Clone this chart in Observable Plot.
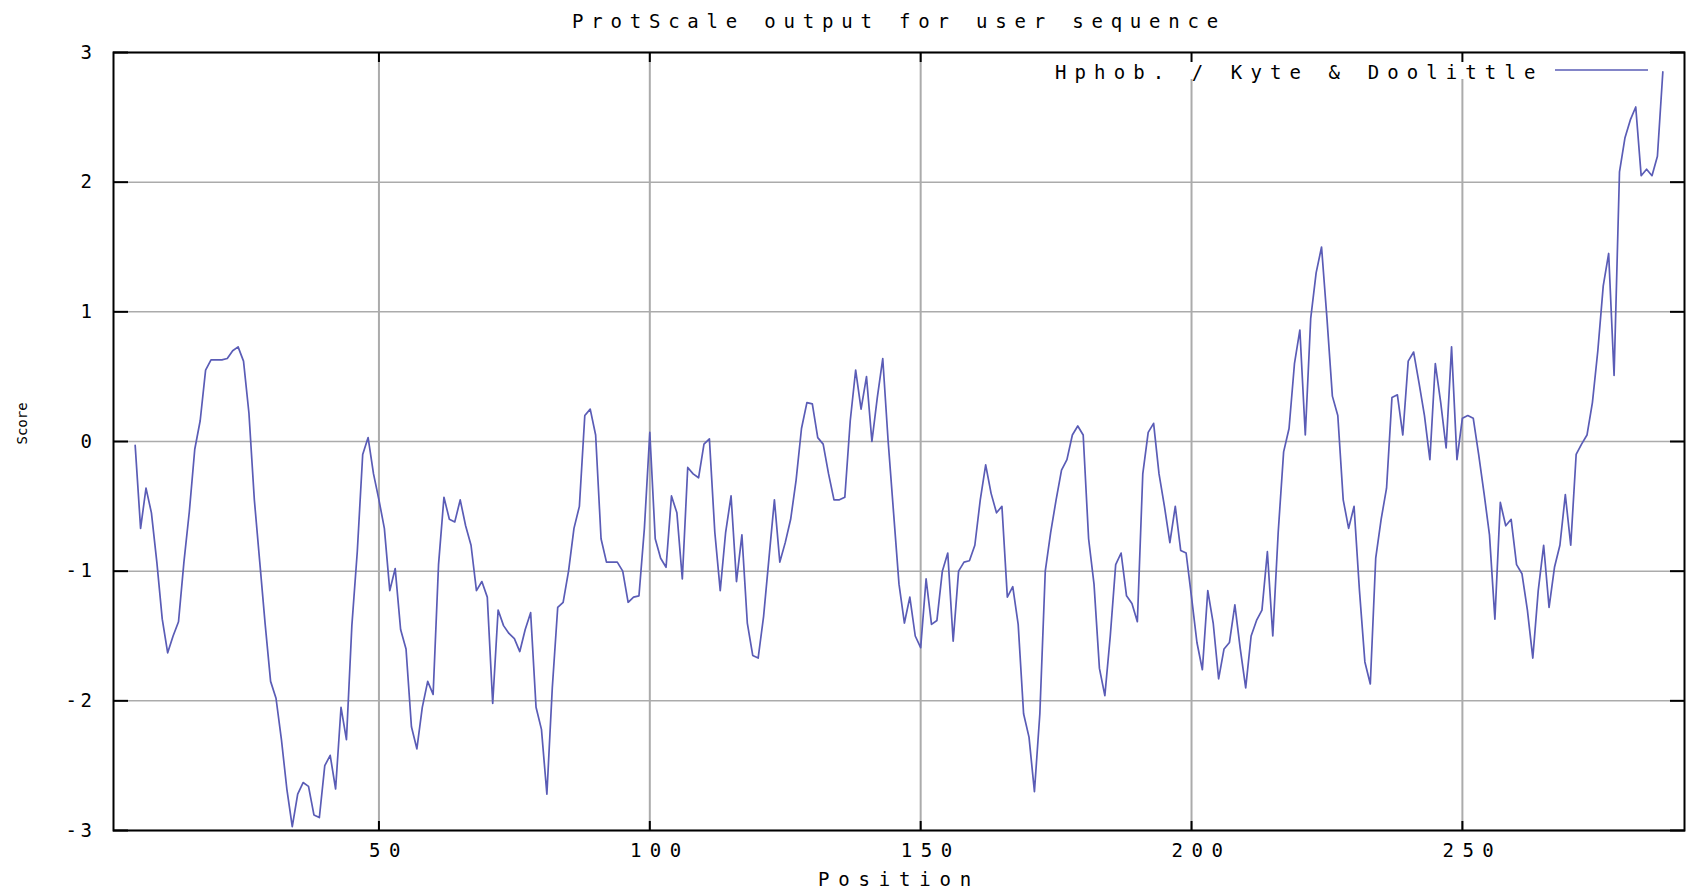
<!DOCTYPE html>
<html>
<head>
<meta charset="utf-8">
<script src="https://cdn.jsdelivr.net/npm/d3@7"></script>
<script src="https://cdn.jsdelivr.net/npm/@observablehq/plot@0.6"></script>
<style>
  html, body { margin: 0; padding: 0; background: #fff; }
  #chart svg { display: block; }
</style>
</head>
<body>
<div id="chart"></div>
<script>
const titleText = "ProtScale output for user sequence";
const seriesName = "Hphob. / Kyte & Doolittle";
const xLabel = "Position";
const yLabel = "Score";
const xTicks = [50, 100, 150, 200, 250];
const yTicks = [-3, -2, -1, 0, 1, 2, 3];
const xDomain = [1, 291];
const yDomain = [-3, 3];
const firstPosition = 5;
const scores = [
  -0.03,-0.67,-0.36,-0.55,-0.93,-1.37,-1.63,-1.50,-1.39,-0.93,
  -0.54,-0.06,0.16,0.55,0.63,0.63,0.63,0.64,0.70,0.73,
  0.62,0.22,-0.45,-0.93,-1.41,-1.85,-1.98,-2.30,-2.68,-2.97,
  -2.72,-2.63,-2.66,-2.88,-2.90,-2.50,-2.42,-2.68,-2.05,-2.30,
  -1.42,-0.85,-0.10,0.03,-0.25,-0.45,-0.67,-1.15,-0.98,-1.45,
  -1.60,-2.20,-2.37,-2.05,-1.85,-1.95,-0.95,-0.43,-0.60,-0.62,
  -0.45,-0.65,-0.80,-1.15,-1.08,-1.20,-2.02,-1.30,-1.42,-1.48,
  -1.52,-1.62,-1.45,-1.32,-2.05,-2.22,-2.72,-1.90,-1.28,-1.24,
  -1.00,-0.67,-0.50,0.20,0.25,0.05,-0.75,-0.93,-0.93,-0.93,
  -1.00,-1.24,-1.20,-1.19,-0.67,0.07,-0.75,-0.90,-0.97,-0.42,
  -0.55,-1.06,-0.20,-0.25,-0.28,-0.02,0.02,-0.70,-1.15,-0.70,
  -0.42,-1.08,-0.72,-1.40,-1.65,-1.67,-1.35,-0.90,-0.45,-0.93,
  -0.78,-0.60,-0.30,0.10,0.30,0.29,0.03,-0.02,-0.25,-0.45,
  -0.45,-0.43,0.16,0.55,0.25,0.50,0.00,0.34,0.64,0.00,
  -0.55,-1.10,-1.40,-1.20,-1.50,-1.59,-1.06,-1.41,-1.38,-1.00,
  -0.86,-1.54,-1.00,-0.93,-0.92,-0.80,-0.45,-0.18,-0.40,-0.55,
  -0.50,-1.20,-1.12,-1.41,-2.10,-2.28,-2.70,-2.10,-1.00,-0.70,
  -0.45,-0.22,-0.14,0.05,0.12,0.05,-0.75,-1.10,-1.75,-1.96,
  -1.50,-0.95,-0.86,-1.19,-1.25,-1.39,-0.25,0.07,0.14,-0.25,
  -0.50,-0.78,-0.50,-0.84,-0.86,-1.20,-1.55,-1.76,-1.15,-1.40,
  -1.83,-1.60,-1.55,-1.26,-1.60,-1.90,-1.50,-1.38,-1.30,-0.85,
  -1.50,-0.70,-0.08,0.10,0.60,0.86,0.05,0.95,1.30,1.50,
  0.95,0.35,0.20,-0.45,-0.67,-0.50,-1.15,-1.70,-1.87,-0.90,
  -0.60,-0.36,0.34,0.36,0.05,0.62,0.69,0.45,0.20,-0.14,
  0.60,0.30,-0.05,0.73,-0.14,0.18,0.20,0.18,-0.10,-0.40,
  -0.72,-1.37,-0.47,-0.65,-0.60,-0.95,-1.02,-1.30,-1.67,-1.15,
  -0.80,-1.28,-0.97,-0.80,-0.41,-0.80,-0.10,-0.02,0.05,0.30,
  0.70,1.20,1.45,0.51,2.08,2.34,2.48,2.58,2.05,2.10,
  2.05,2.20,2.85
];
const positions = scores.map((_, i) => firstPosition + i);
const data = positions.map((p, i) => ({position: p, score: scores[i]}));

const FONT = "'DejaVu Sans Mono', 'Liberation Mono', monospace";
const LINE_COLOR = "#5a5cb6";
const GRID_COLOR = "#ababab";
const FS = 19;

const chart = Plot.plot({
  width: 1689,
  height: 888,
  marginLeft: 113,
  marginRight: 5,
  marginTop: 52,
  marginBottom: 58,
  style: {fontFamily: FONT, fontSize: FS + "px", color: "#000", background: "#fff"},
  x: {domain: xDomain},
  y: {domain: yDomain},
  marks: [
    Plot.gridX(xTicks, {stroke: GRID_COLOR, strokeOpacity: 1, strokeWidth: 2}),
    Plot.gridY(yTicks, {stroke: GRID_COLOR, strokeOpacity: 1, strokeWidth: 1.5}),
    Plot.line(data, {x: "position", y: "score", stroke: LINE_COLOR, strokeWidth: 1.7}),
    // tick labels
    Plot.axisX(xTicks, {anchor: "bottom", tickSize: 0, tickPadding: 13, dx: 10, tickFormat: d => String(d), label: null, fontSize: FS, className: "xlab"}),
    Plot.axisY(yTicks, {anchor: "left", tickSize: 0, tickPadding: 18, tickFormat: d => String(d), label: null, fontSize: FS, className: "ylab"}),
    // inward tick marks (mirrored)
    Plot.axisX(xTicks, {anchor: "bottom", tickSize: 9, dy: -9, tickFormat: () => "", label: null, stroke: "#000", strokeWidth: 2}),
    Plot.axisX(xTicks, {anchor: "top", tickSize: 9, dy: 9, tickFormat: () => "", label: null, stroke: "#000", strokeWidth: 2}),
    Plot.axisY(yTicks, {anchor: "left", tickSize: 15, dx: 15, tickFormat: () => "", label: null, stroke: "#000", strokeWidth: 2}),
    Plot.axisY(yTicks, {anchor: "right", tickSize: 15, dx: -15, tickFormat: () => "", label: null, stroke: "#000", strokeWidth: 2}),
    Plot.frame({stroke: "#000", strokeWidth: 2}),
    // titles
    Plot.text([titleText], {frameAnchor: "top", dy: -38, fontSize: FS, className: "ttl"}),
    Plot.text([xLabel], {frameAnchor: "bottom", dy: 55, fontSize: FS, className: "xttl"}),
    Plot.text([yLabel], {frameAnchor: "left", dx: -91, dy: 3, rotate: -90, fontSize: 14, className: "yttl"}),
    Plot.text([seriesName], {frameAnchor: "top-right", textAnchor: "end", dx: -141, dy: 13, fontSize: FS, className: "leg"})
  ]
});

const svg = d3.select(chart);
// wide letter pitch like the reference bitmap font
svg.selectAll(".ttl text").style("letter-spacing", "7.8px");
svg.selectAll(".leg text").style("letter-spacing", "8.1px");
svg.selectAll(".xttl text").style("letter-spacing", "8.8px");
svg.selectAll(".xlab text").style("letter-spacing", "8.5px");
svg.selectAll(".ylab text").style("letter-spacing", "3.6px");

// legend box (hides grid behind legend) and legend sample line
const lineG = svg.select('g[aria-label="line"]').node();
const box = document.createElementNS("http://www.w3.org/2000/svg", "rect");
box.setAttribute("x", 1040); box.setAttribute("y", 53);
box.setAttribute("width", 643); box.setAttribute("height", 26);
box.setAttribute("fill", "#fff");
lineG.parentNode.insertBefore(box, lineG);
svg.append("line")
  .attr("x1", 1555).attr("x2", 1648).attr("y1", 70).attr("y2", 70)
  .attr("stroke", LINE_COLOR).attr("stroke-width", 1.7);

document.getElementById("chart").appendChild(chart);
</script>
</body>
</html>
